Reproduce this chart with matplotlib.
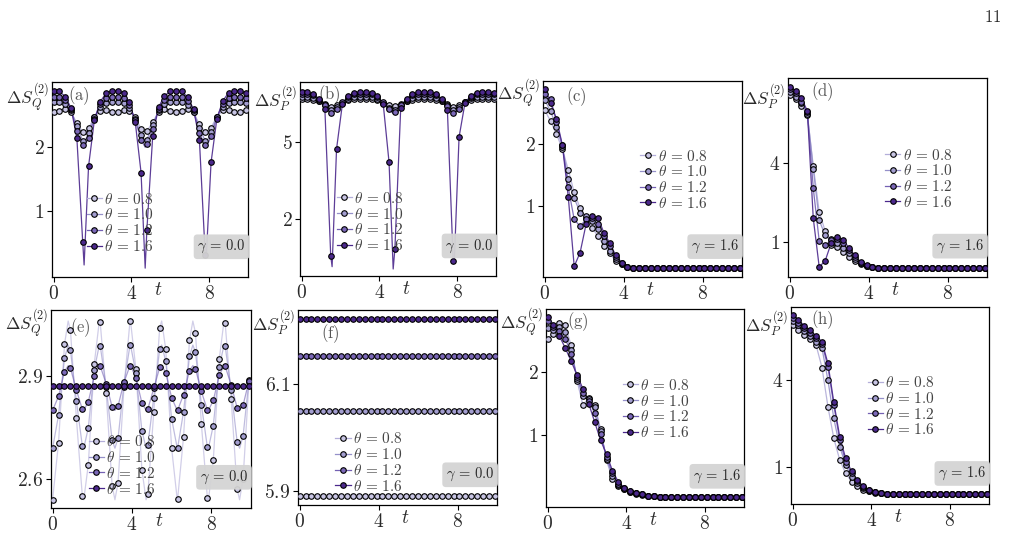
import numpy as np
import matplotlib
matplotlib.use('Agg')
import matplotlib.pyplot as plt
from matplotlib.ticker import FuncFormatter, FixedLocator
from matplotlib.lines import Line2D

plt.rcParams['mathtext.fontset'] = 'cm'
plt.rcParams['font.family'] = ['DejaVu Serif']

# ---------------- data ----------------
t = [0.0, 0.3, 0.6, 0.9, 1.2, 1.5, 1.8, 2.1, 2.4, 2.7, 3.0, 3.3, 3.6, 3.9, 4.2, 4.5, 4.8,
     5.1, 5.4, 5.7, 6.0, 6.3, 6.6, 6.9, 7.2, 7.5, 7.8, 8.1, 8.4, 8.7, 9.0, 9.3, 9.6, 9.9]
theta_labels = ['0.8', '1.0', '1.2', '1.6']

# (a) Delta S_Q, gamma = 0
a08 = [2.56, 2.57, 2.60, 2.55, 2.38, 2.24, 2.30, 2.47, 2.57, 2.58, 2.56, 2.56, 2.58, 2.57, 2.47, 2.29, 2.25,
       2.40, 2.55, 2.60, 2.57, 2.56, 2.57, 2.60, 2.55, 2.36, 2.24, 2.31, 2.48, 2.58, 2.58, 2.56, 2.56, 2.58]
a10 = [2.71, 2.71, 2.68, 2.58, 2.33, 2.10, 2.22, 2.47, 2.63, 2.70, 2.71, 2.71, 2.70, 2.62, 2.45, 2.20, 2.12,
       2.35, 2.58, 2.68, 2.71, 2.71, 2.71, 2.67, 2.56, 2.30, 2.10, 2.24, 2.48, 2.64, 2.70, 2.71, 2.71, 2.70]
a12 = [2.79, 2.79, 2.74, 2.60, 2.25, 2.03, 2.15, 2.45, 2.68, 2.78, 2.79, 2.79, 2.77, 2.67, 2.43, 2.12, 2.05,
       2.28, 2.61, 2.74, 2.79, 2.79, 2.79, 2.73, 2.58, 2.22, 2.03, 2.17, 2.47, 2.69, 2.78, 2.79, 2.79, 2.77]
a16 = [2.88, 2.88, 2.80, 2.62, 2.14, 0.50, 1.70, 2.43, 2.72, 2.85, 2.89, 2.89, 2.85, 2.71, 2.40, 1.60, 0.70,
       2.18, 2.63, 2.81, 2.88, 2.88, 2.88, 2.79, 2.60, 2.12, 0.30, 1.76, 2.45, 2.73, 2.86, 2.89, 2.89, 2.85]
dip_t = [1.571, 4.712, 7.854]
a08_dip = [2.22, 2.22, 2.22]
a10_dip = [2.07, 2.08, 2.07]
a12_dip = [2.00, 2.00, 2.00]
a16_dip = [0.14, 0.09, 0.27]

# (b) Delta S_P, gamma = 0
b08 = [6.64, 6.64, 6.62, 6.55, 6.45, 6.35, 6.40, 6.50, 6.60, 6.63, 6.64, 6.64, 6.63, 6.60, 6.50, 6.40, 6.36,
       6.46, 6.55, 6.62, 6.64, 6.64, 6.64, 6.62, 6.55, 6.44, 6.35, 6.41, 6.51, 6.60, 6.63, 6.64, 6.64, 6.63]
b10 = [6.74, 6.74, 6.70, 6.58, 6.42, 6.22, 6.32, 6.50, 6.66, 6.73, 6.74, 6.74, 6.73, 6.66, 6.50, 6.31, 6.23,
       6.43, 6.58, 6.70, 6.74, 6.74, 6.74, 6.70, 6.58, 6.41, 6.21, 6.33, 6.51, 6.67, 6.73, 6.74, 6.74, 6.73]
b12 = [6.84, 6.83, 6.78, 6.62, 6.40, 6.12, 6.25, 6.52, 6.72, 6.82, 6.84, 6.84, 6.82, 6.72, 6.52, 6.24, 6.13,
       6.42, 6.62, 6.78, 6.83, 6.84, 6.83, 6.78, 6.62, 6.39, 6.11, 6.27, 6.53, 6.73, 6.82, 6.84, 6.84, 6.82]
b16 = [6.93, 6.91, 6.82, 6.66, 6.25, 0.59, 4.72, 6.45, 6.76, 6.88, 6.93, 6.93, 6.88, 6.76, 6.45, 4.20, 0.85,
       6.30, 6.66, 6.82, 6.91, 6.93, 6.91, 6.82, 6.66, 6.22, 0.37, 5.17, 6.47, 6.77, 6.88, 6.93, 6.93, 6.87]
b08_dip = [6.34, 6.34, 6.34]
b10_dip = [6.20, 6.20, 6.20]
b12_dip = [6.08, 6.08, 6.08]
b16_dip = [0.17, 0.08, 0.33]

# (c) Delta S_Q, gamma = 1.6
c08 = [2.54, 2.36, 2.15, 1.92, 1.58, 1.22, 0.97, 0.82, 0.66, 0.52, 0.37, 0.25, 0.12, 0.07, 0.03, 0.01, 0.01,
       0.01, 0.01, 0.01, 0.01, 0.01, 0.01, 0.01, 0.01, 0.01, 0.01, 0.01, 0.01, 0.01, 0.01, 0.01, 0.01, 0.01]
c10 = [2.70, 2.52, 2.27, 1.95, 1.43, 1.13, 0.90, 0.84, 0.76, 0.63, 0.44, 0.28, 0.15, 0.08, 0.03, 0.01, 0.01,
       0.01, 0.01, 0.01, 0.01, 0.01, 0.01, 0.01, 0.01, 0.01, 0.01, 0.01, 0.01, 0.01, 0.01, 0.01, 0.01, 0.01]
c12 = [2.80, 2.72, 2.35, 1.97, 1.30, 0.79, 0.68, 0.79, 0.82, 0.71, 0.52, 0.36, 0.19, 0.09, 0.03, 0.01, 0.01,
       0.01, 0.01, 0.01, 0.01, 0.01, 0.01, 0.01, 0.01, 0.01, 0.01, 0.01, 0.01, 0.01, 0.01, 0.01, 0.01, 0.01]
c16 = [2.87, 2.65, 2.40, 1.98, 1.15, 0.04, 0.26, 0.71, 0.84, 0.82, 0.58, 0.41, 0.22, 0.10, 0.03, 0.01, 0.01,
       0.01, 0.01, 0.01, 0.01, 0.01, 0.01, 0.01, 0.01, 0.01, 0.01, 0.01, 0.01, 0.01, 0.01, 0.01, 0.01, 0.01]

# (d) Delta S_P, gamma = 1.6
d08 = [6.61, 6.45, 6.19, 5.85, 3.90, 2.15, 1.42, 0.87, 0.81, 0.62, 0.43, 0.27, 0.15, 0.07, 0.03, 0.02, 0.02,
       0.02, 0.02, 0.02, 0.02, 0.02, 0.02, 0.02, 0.02, 0.02, 0.02, 0.02, 0.02, 0.02, 0.02, 0.02, 0.02, 0.02]
d10 = [6.74, 6.55, 6.29, 5.90, 3.80, 1.83, 1.26, 1.13, 0.94, 0.75, 0.56, 0.36, 0.18, 0.08, 0.03, 0.02, 0.02,
       0.02, 0.02, 0.02, 0.02, 0.02, 0.02, 0.02, 0.02, 0.02, 0.02, 0.02, 0.02, 0.02, 0.02, 0.02, 0.02, 0.02]
d12 = [6.83, 6.68, 6.36, 5.95, 3.05, 1.04, 0.87, 1.06, 1.13, 0.94, 0.68, 0.43, 0.20, 0.09, 0.03, 0.02, 0.02,
       0.02, 0.02, 0.02, 0.02, 0.02, 0.02, 0.02, 0.02, 0.02, 0.02, 0.02, 0.02, 0.02, 0.02, 0.02, 0.02, 0.02]
d16 = [6.93, 6.78, 6.50, 6.00, 1.90, 0.05, 0.27, 0.94, 1.17, 1.09, 0.78, 0.49, 0.23, 0.10, 0.03, 0.02, 0.02,
       0.02, 0.02, 0.02, 0.02, 0.02, 0.02, 0.02, 0.02, 0.02, 0.02, 0.02, 0.02, 0.02, 0.02, 0.02, 0.02, 0.02]

# (e) Delta S_Q, gamma = 0 (oscillating)
e08 = [2.540, 2.706, 2.992, 3.033, 2.777, 2.550, 2.642, 2.935, 3.056, 2.851, 2.581, 2.590, 2.868, 3.059,
       2.920, 2.628, 2.556, 2.795, 3.041, 2.979, 2.690, 2.541, 2.723, 3.004, 3.026, 2.760, 2.546, 2.655,
       2.949, 3.053, 2.834, 2.572, 2.601, 2.884]
e10 = [2.690, 2.786, 2.951, 2.975, 2.827, 2.696, 2.749, 2.918, 2.988, 2.869, 2.713, 2.719, 2.879, 2.989,
       2.909, 2.741, 2.699, 2.837, 2.979, 2.944, 2.776, 2.690, 2.796, 2.957, 2.970, 2.817, 2.693, 2.756,
       2.926, 2.986, 2.860, 2.709, 2.725, 2.889]
e12 = [2.800, 2.841, 2.913, 2.923, 2.859, 2.803, 2.825, 2.899, 2.929, 2.878, 2.810, 2.813, 2.882, 2.930,
       2.895, 2.822, 2.804, 2.864, 2.925, 2.910, 2.837, 2.800, 2.846, 2.916, 2.921, 2.855, 2.801, 2.829,
       2.902, 2.928, 2.874, 2.808, 2.815, 2.886]
e16 = [2.872, 2.872, 2.872, 2.872, 2.872, 2.872, 2.872, 2.872, 2.872, 2.872, 2.872, 2.872, 2.872, 2.872,
       2.872, 2.872, 2.872, 2.872, 2.872, 2.872, 2.872, 2.872, 2.872, 2.872, 2.872, 2.872, 2.872, 2.872,
       2.872, 2.872, 2.872, 2.872, 2.872, 2.872]
ext_t = [0.785, 1.571, 2.356, 3.142, 3.927, 4.712, 5.498, 6.283, 7.069, 7.854, 8.639, 9.425]
e08_ext = [3.06, 2.54, 3.06, 2.54, 3.06, 2.54, 3.06, 2.54, 3.06, 2.54, 3.06, 2.54]
e10_ext = [2.99, 2.69, 2.99, 2.69, 2.99, 2.69, 2.99, 2.69, 2.99, 2.69, 2.99, 2.69]
e12_ext = [2.93, 2.80, 2.93, 2.80, 2.93, 2.80, 2.93, 2.80, 2.93, 2.80, 2.93, 2.80]

# (f) Delta S_P, gamma = 0 (constant)
f08 = [5.890, 5.890, 5.890, 5.890, 5.890, 5.890, 5.890, 5.890, 5.890, 5.890, 5.890, 5.890, 5.890, 5.890,
       5.890, 5.890, 5.890, 5.890, 5.890, 5.890, 5.890, 5.890, 5.890, 5.890, 5.890, 5.890, 5.890, 5.890,
       5.890, 5.890, 5.890, 5.890, 5.890, 5.890]
f10 = [6.050, 6.050, 6.050, 6.050, 6.050, 6.050, 6.050, 6.050, 6.050, 6.050, 6.050, 6.050, 6.050, 6.050,
       6.050, 6.050, 6.050, 6.050, 6.050, 6.050, 6.050, 6.050, 6.050, 6.050, 6.050, 6.050, 6.050, 6.050,
       6.050, 6.050, 6.050, 6.050, 6.050, 6.050]
f12 = [6.153, 6.153, 6.153, 6.153, 6.153, 6.153, 6.153, 6.153, 6.153, 6.153, 6.153, 6.153, 6.153, 6.153,
       6.153, 6.153, 6.153, 6.153, 6.153, 6.153, 6.153, 6.153, 6.153, 6.153, 6.153, 6.153, 6.153, 6.153,
       6.153, 6.153, 6.153, 6.153, 6.153, 6.153]
f16 = [6.223, 6.223, 6.223, 6.223, 6.223, 6.223, 6.223, 6.223, 6.223, 6.223, 6.223, 6.223, 6.223, 6.223,
       6.223, 6.223, 6.223, 6.223, 6.223, 6.223, 6.223, 6.223, 6.223, 6.223, 6.223, 6.223, 6.223, 6.223,
       6.223, 6.223, 6.223, 6.223, 6.223, 6.223]

# (g) Delta S_Q, gamma = 1.6
g08 = [2.54, 2.62, 2.78, 2.75, 2.43, 1.87, 1.48, 1.60, 1.48, 1.10, 0.60, 0.31, 0.19, 0.14, 0.10, 0.07, 0.05,
       0.04, 0.03, 0.02, 0.02, 0.02, 0.02, 0.02, 0.02, 0.02, 0.02, 0.02, 0.02, 0.02, 0.02, 0.02, 0.02, 0.02]
g10 = [2.70, 2.68, 2.73, 2.65, 2.36, 1.90, 1.62, 1.58, 1.45, 1.07, 0.62, 0.36, 0.21, 0.15, 0.10, 0.08, 0.06,
       0.04, 0.03, 0.02, 0.02, 0.02, 0.02, 0.02, 0.02, 0.02, 0.02, 0.02, 0.02, 0.02, 0.02, 0.02, 0.02, 0.02]
g12 = [2.82, 2.73, 2.66, 2.54, 2.30, 1.93, 1.68, 1.55, 1.35, 1.02, 0.66, 0.40, 0.23, 0.16, 0.11, 0.08, 0.06,
       0.04, 0.03, 0.02, 0.02, 0.02, 0.02, 0.02, 0.02, 0.02, 0.02, 0.02, 0.02, 0.02, 0.02, 0.02, 0.02, 0.02]
g16 = [2.89, 2.76, 2.58, 2.39, 2.18, 1.96, 1.74, 1.50, 1.21, 0.92, 0.70, 0.44, 0.26, 0.17, 0.11, 0.08, 0.06,
       0.04, 0.03, 0.02, 0.02, 0.02, 0.02, 0.02, 0.02, 0.02, 0.02, 0.02, 0.02, 0.02, 0.02, 0.02, 0.02, 0.02]

# (h) Delta S_P, gamma = 1.6
h08 = [5.90, 5.73, 5.58, 5.44, 5.21, 4.43, 3.08, 1.98, 1.23, 0.77, 0.48, 0.31, 0.20, 0.14, 0.09, 0.07, 0.05,
       0.04, 0.03, 0.03, 0.03, 0.03, 0.03, 0.03, 0.03, 0.03, 0.03, 0.03, 0.03, 0.03, 0.03, 0.03, 0.03, 0.03]
h10 = [6.04, 5.90, 5.70, 5.54, 5.33, 5.10, 4.00, 2.67, 1.69, 1.06, 0.65, 0.42, 0.25, 0.16, 0.10, 0.07, 0.05,
       0.04, 0.03, 0.03, 0.03, 0.03, 0.03, 0.03, 0.03, 0.03, 0.03, 0.03, 0.03, 0.03, 0.03, 0.03, 0.03, 0.03]
h12 = [6.15, 6.00, 5.80, 5.65, 5.45, 5.27, 4.46, 3.13, 1.92, 1.17, 0.77, 0.50, 0.29, 0.18, 0.11, 0.08, 0.06,
       0.05, 0.04, 0.03, 0.03, 0.03, 0.03, 0.03, 0.03, 0.03, 0.03, 0.03, 0.03, 0.03, 0.03, 0.03, 0.03, 0.03]
h16 = [6.25, 6.10, 5.88, 5.73, 5.54, 5.33, 4.58, 3.23, 2.04, 1.29, 0.83, 0.54, 0.31, 0.19, 0.12, 0.08, 0.06,
       0.05, 0.04, 0.03, 0.03, 0.03, 0.03, 0.03, 0.03, 0.03, 0.03, 0.03, 0.03, 0.03, 0.03, 0.03, 0.03, 0.03]

# ---------------- style ----------------
colors = ['#c8c5e4', '#a39ed0', '#7b68b8', '#4b288c']
line_colors = ['#b3aed9', '#9590c9', '#7461b3', '#4b288c']
txt_col = '#2a2a2a'
W, H = 1014, 539


def merge(tm, ym, te, ye):
    pts = sorted(list(zip(tm, ym)) + list(zip(te, ye)))
    return [p[0] for p in pts], [p[1] for p in pts]


panels = [
    dict(box=(52, 82, 248, 277), series=[a08, a10, a12, a16], extra=(dip_t, [a08_dip, a10_dip, a12_dip, a16_dip]),
         ylim=(-0.05, 3.03), yticks=[1, 2], sym='Q', letter='a', gamma='0.0', leg=(0.17, 0.11), lab=(0.135, 0.93),
         ylab_y=0.92, line_alpha=0.9),
    dict(box=(300, 82, 496, 276), series=[b08, b10, b12, b16], extra=(dip_t, [b08_dip, b10_dip, b12_dip, b16_dip]),
         ylim=(-0.19, 7.30), yticks=[2, 5], sym='P', letter='b', gamma='0.0', leg=(0.18, 0.11), lab=(0.15, 0.935),
         ylab_y=0.91, line_alpha=0.9),
    dict(box=(543, 81, 742, 277), series=[c08, c10, c12, c16], extra=None,
         ylim=(-0.13, 3.00), yticks=[1, 2], sym='Q', letter='c', gamma='1.6', leg=(0.48, 0.33), lab=(0.17, 0.92),
         ylab_y=0.935, line_alpha=0.9),
    dict(box=(788, 78, 987, 277), series=[d08, d10, d12, d16], extra=None,
         ylim=(-0.34, 7.26), yticks=[1, 4], sym='P', letter='d', gamma='1.6', leg=(0.48, 0.33), lab=(0.17, 0.93),
         ylab_y=0.90, line_alpha=0.9),
    dict(box=(51, 310, 251, 508), series=[e08, e10, e12, e16], extra=(ext_t, [e08_ext, e10_ext, e12_ext, None]),
         ylim=(2.516, 3.092), yticks=[2.6, 2.9], sym='Q', letter='e', gamma='0.0', leg=(0.18, 0.05), lab=(0.145, 0.91),
         ylab_y=0.93, line_alpha=0.6),
    dict(box=(298, 310, 497, 505), series=[f08, f10, f12, f16], extra=None,
         ylim=(5.873, 6.240), yticks=[5.9, 6.1], sym='P', letter='f', gamma='0.0', leg=(0.18, 0.05), lab=(0.16, 0.88),
         ylab_y=0.93, line_alpha=0.9),
    dict(box=(546, 309, 744, 507), series=[g08, g10, g12, g16], extra=None,
         ylim=(-0.14, 3.01), yticks=[1, 2], sym='Q', letter='g', gamma='1.6', leg=(0.38, 0.33), lab=(0.16, 0.935),
         ylab_y=0.93, line_alpha=0.9),
    dict(box=(791, 307, 989, 504), series=[h08, h10, h12, h16], extra=None,
         ylim=(-0.30, 6.54), yticks=[1, 4], sym='P', letter='h', gamma='1.6', leg=(0.38, 0.33), lab=(0.16, 0.935),
         ylab_y=0.91, line_alpha=0.9),
]

fig = plt.figure(figsize=(W / 100, H / 100), dpi=100)
fmt = FuncFormatter(lambda v, p: r'$%g$' % v)
MS = 4.0

for P in panels:
    x0, y0, x1, y1 = P['box']
    ax = fig.add_axes([x0 / W, 1 - y1 / H, (x1 - x0) / W, (y1 - y0) / H])
    handles = []
    for i, ys in enumerate(P['series']):
        col = colors[i]
        if P['extra'] is not None and P['extra'][1][i] is not None:
            lt, ly = merge(t, ys, P['extra'][0], P['extra'][1][i])
        else:
            lt, ly = t, ys
        ax.plot(lt, ly, '-', color=line_colors[i], lw=0.9, alpha=P['line_alpha'], zorder=2 + i)
        ax.plot(t, ys, 'o', ms=MS, mfc=col, mec='black', mew=0.8, ls='none', zorder=6 + i)
        handles.append(Line2D([], [], color=line_colors[i], lw=0.9, marker='o', ms=MS, mfc=col, mec='black', mew=0.8))
    ax.set_xlim(-0.08, 10.0)
    ax.set_ylim(*P['ylim'])
    ax.xaxis.set_major_locator(FixedLocator([0, 4, 8]))
    ax.yaxis.set_major_locator(FixedLocator(P['yticks']))
    ax.xaxis.set_major_formatter(fmt)
    ax.yaxis.set_major_formatter(fmt)
    ax.tick_params(direction='out', length=3.5, width=0.8, labelsize=14, colors='black', labelcolor=txt_col, pad=2)
    for s in ax.spines.values():
        s.set_linewidth(0.9)
    ax.text(-0.012, P['ylab_y'], r'$\Delta S_{%s}^{(2)}$' % P['sym'], transform=ax.transAxes,
            ha='right', va='center', fontsize=12.5, color=txt_col)
    ax.text(P['lab'][0], P['lab'][1], r'$\mathrm{(%s)}$' % P['letter'], transform=ax.transAxes,
            ha='center', va='center', fontsize=12, color='#555555')
    ax.text(0.54, -0.065, r'$t$', transform=ax.transAxes, ha='center', va='center', fontsize=14, color=txt_col)
    ax.text(0.865, 0.155, r'$\gamma\, =\, %s$' % P['gamma'], transform=ax.transAxes, ha='center', va='center',
            fontsize=10.5, color=txt_col,
            bbox=dict(boxstyle='round,pad=0.25', fc='#d4d4d4', ec='none', alpha=0.95), zorder=20)
    leg = ax.legend(handles, [r'$\theta\, =\, %s$' % s for s in theta_labels], loc='lower left',
                    bbox_to_anchor=P['leg'], frameon=False, fontsize=11, handlelength=1.0,
                    handletextpad=0.15, labelspacing=0.05, borderpad=0.1, borderaxespad=0.0)
    for tx in leg.get_texts():
        tx.set_color('#444444')
    leg.set_zorder(15)

fig.text(993 / W, 1 - 18 / H, r'$\mathrm{11}$', ha='center', va='center', fontsize=12, color=txt_col)

fig.savefig('out.png', dpi=100)
